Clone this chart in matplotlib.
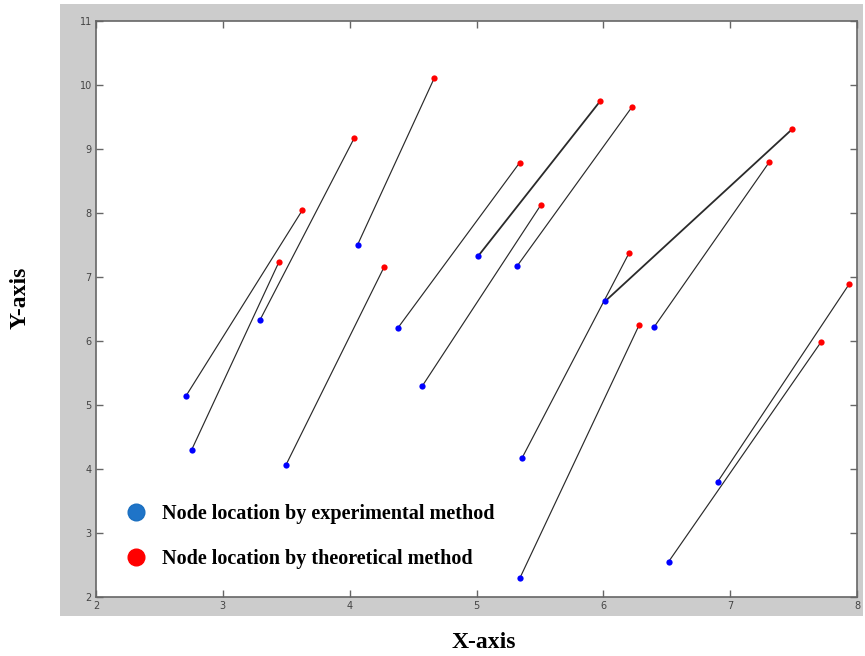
import matplotlib
matplotlib.use("Agg")
import matplotlib.pyplot as plt
from matplotlib.lines import Line2D

# Experimental (blue) node locations
exp_x = [2.71, 2.755, 3.294, 3.497, 4.062, 4.378, 4.573, 5.015, 5.318, 6.015, 5.360, 6.399, 5.341, 6.901, 6.515]
exp_y = [5.14, 4.30, 6.33, 4.057, 7.50, 6.196, 5.295, 7.33, 7.163, 6.62, 4.172, 6.212, 2.287, 3.795, 2.548]
# Theoretical (red) node locations
theo_x = [3.626, 3.444, 4.036, 4.273, 4.668, 5.341, 5.507, 5.975, 6.223, 7.491, 6.204, 7.309, 6.283, 7.938, 7.717]
theo_y = [8.04, 7.24, 9.17, 7.16, 10.112, 8.787, 8.123, 9.747, 9.648, 9.313, 7.377, 8.796, 6.25, 6.886, 5.983]

x_ticks = [2, 3, 4, 5, 6, 7, 8]
y_ticks = [2, 3, 4, 5, 6, 7, 8, 9, 10, 11]
legend_labels = ["Node location by experimental method", "Node location by theoretical method"]

# pairs drawn with a heavier line
heavy = {7, 9}

fig = plt.figure(figsize=(8.65, 6.56), dpi=100)
fig.patch.set_facecolor("white")

# gray panel behind the axes
bg = fig.add_axes([60/865, 1-616/656, (863-60)/865, (616-4)/656])
bg.set_facecolor("#cccccc")
bg.set_xticks([])
bg.set_yticks([])
for sp in bg.spines.values():
    sp.set_visible(False)
bg.set_zorder(0)

ax = fig.add_axes([96/865, 1-596.7/656, (857-96)/865, (596.7-21)/656])
ax.set_zorder(1)
ax.set_facecolor("white")

for i in range(len(exp_x)):
    lw = 1.3 if i in heavy else 0.85
    ax.plot([exp_x[i], theo_x[i]], [exp_y[i], theo_y[i]], color="#2a2a2a", lw=lw, zorder=2)
ax.plot(exp_x, exp_y, 'o', color="#0000ff", markersize=4.5, markeredgewidth=0, zorder=3)
ax.plot(theo_x, theo_y, 'o', color="#ff0000", markersize=4.5, markeredgewidth=0, zorder=3)

ax.set_xlim(2, 8)
ax.set_ylim(2, 11)
ax.set_xticks(x_ticks)
ax.set_yticks(y_ticks)
ax.set_xticklabels([str(t) for t in x_ticks])
ax.set_yticklabels([str(t) for t in y_ticks])
ax.tick_params(direction="in", length=5, width=1, color="#666666", labelcolor="#444444",
               labelsize=7, top=True, right=True, pad=3)
for sp in ax.spines.values():
    sp.set_color("#666666")
    sp.set_linewidth(1.2)

handles = [Line2D([], [], marker='o', ls='none', markersize=12, markerfacecolor="#1f74c8",
                  markeredgecolor="#1a6fc0"),
           Line2D([], [], marker='o', ls='none', markersize=12, markerfacecolor="#ff0000",
                  markeredgecolor="#ff0000")]
leg = ax.legend(handles, legend_labels, loc="lower left", bbox_to_anchor=(0.0394, 0.048),
                frameon=False, labelspacing=1.22, handlelength=1.0, handletextpad=0.8,
                borderpad=0, borderaxespad=0,
                prop={"family": "Liberation Serif", "weight": "bold", "size": 14.5})

fig.text(484/865, 1-642/656, "X-axis", ha="center", va="center",
         family="Liberation Serif", weight="bold", fontsize=17)
fig.text(20/865, 1-298/656, "Y-axis", ha="center", va="center", rotation=90,
         family="Liberation Serif", weight="bold", fontsize=17)

fig.savefig("out.png", dpi=100, facecolor="white")
